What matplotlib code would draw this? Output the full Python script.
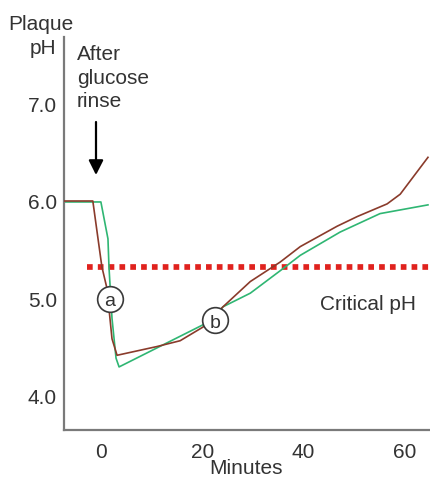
import numpy as np
import matplotlib
matplotlib.use('Agg')
import matplotlib.pyplot as plt

plt.rcParams['font.family'] = ['Liberation Sans', 'DejaVu Sans']

# curve a (brown): plaque pH after a glucose rinse
minutes_a = [-8, -1.7, 0.1, 1.1, 2.1, 3.1, 11.0, 15.6, 20.1, 24.1, 29.5, 35.4, 39.4, 46.7, 50.7, 56.6, 59.2, 64.7]
ph_a = [6.0, 6.0, 5.32, 5.10, 4.58, 4.41, 4.50, 4.56, 4.70, 4.91, 5.17, 5.37, 5.53, 5.74, 5.84, 5.97, 6.07, 6.45]

# curve b (green)
minutes_b = [-8, -0.1, 1.3, 1.5, 2.1, 2.9, 3.5, 21.5, 24.1, 29.5, 35.9, 39.4, 47.3, 55.2, 64.7]
ph_b = [5.99, 5.99, 5.61, 5.32, 4.79, 4.38, 4.29, 4.76, 4.91, 5.05, 5.30, 5.44, 5.68, 5.87, 5.96]

critical_ph = 5.32
critical_start = -2.85

x_ticks = [0, 20, 40, 60]
y_ticks = [4.0, 5.0, 6.0, 7.0]

# circled labels
marker_labels = ['a', 'b']
marker_x = [1.7, 22.5]
marker_y = [4.99, 4.77]

W, H = 431, 481
FS = 15
TXT = '#333333'

fig = plt.figure(figsize=(W / 100, H / 100), dpi=100)
ax = fig.add_axes([64 / W, (H - 431) / H, (W - 64) / W, (431 - 38) / H])

ax.plot(minutes_a, ph_a, color='#8a3b2b', lw=1.2, zorder=3)
ax.plot(minutes_b, ph_b, color='#2fb673', lw=1.2, zorder=2)

ax.plot([critical_start, 70], [critical_ph, critical_ph], color='#e0221e',
        lw=4.1, dashes=(1, 0.9), dash_capstyle='butt', zorder=1)

for lab, mx, my in zip(marker_labels, marker_x, marker_y):
    ax.plot(mx, my, marker='o', ms=18.5, mfc='white', mec='#3a3a3a', mew=1.2, zorder=5)
    ax.text(mx, my - 0.02, lab, fontsize=14, color=TXT, ha='center', va='center', zorder=6)

ax.set_xlim(-7.41, 65.3)
ax.set_ylim(3.64, 7.69)
ax.set_xticks(x_ticks)
ax.set_yticks(y_ticks)
ax.set_yticklabels([f'{v:.1f}' for v in y_ticks])
ax.tick_params(length=0, labelsize=FS, colors=TXT)
ax.tick_params(axis='y', pad=5)
ax.tick_params(axis='x', pad=9)
for s in ['top', 'right']:
    ax.spines[s].set_visible(False)
for s in ['left', 'bottom']:
    ax.spines[s].set_color('#7a7a7a')
    ax.spines[s].set_linewidth(1.6)


def px_text(x, y, s, **kw):
    # place text by pixel position measured from the top-left corner
    fig.text(x / W, 1 - y / H, s, fontsize=FS, color=TXT, **kw)


px_text(246, 469, 'Minutes', ha='center', va='center')
px_text(320, 305, 'Critical pH', ha='left', va='center')
px_text(8, 24, 'Plaque', ha='left', va='center')
px_text(56, 49, 'pH', ha='right', va='center')
px_text(77, 78, 'After\nglucose\nrinse', ha='left', va='center', linespacing=1.27)

ax.annotate('', xy=(96, H - 176), xycoords='figure pixels',
            xytext=(96, H - 123), textcoords='figure pixels',
            arrowprops=dict(arrowstyle='-|>', color='black', lw=1.6,
                            mutation_scale=22, shrinkA=0, shrinkB=0))

fig.savefig('out.png', dpi=100)
